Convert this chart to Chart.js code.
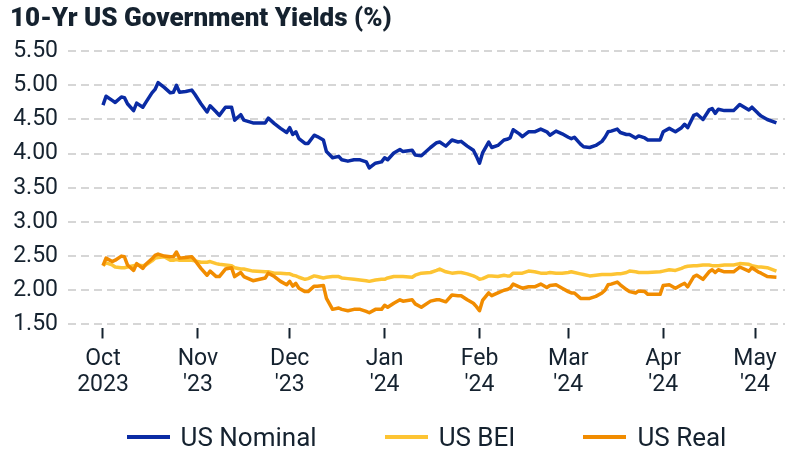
<!DOCTYPE html>
<html>
<head>
<meta charset="utf-8">
<script src="https://cdn.jsdelivr.net/npm/chart.js@4.4.1/dist/chart.umd.min.js"></script>
<style>
  html, body { margin: 0; padding: 0; background: #fff; }
  #wrap { position: relative; width: 786px; height: 451px; }
  #legend {
    position: absolute; left: 68px; right: 1px; top: 423px;
    display: flex; justify-content: center; align-items: center;
    font: 26px Roboto, sans-serif; color: #15222f; line-height: 28px;
  }
  .item { display: flex; align-items: center; margin: 0 34px; }
  .sw { width: 43px; height: 4px; margin-right: 11px; }
</style>
</head>
<body>
<div id="wrap">
  <canvas id="c" width="786" height="451"></canvas>
  <div id="legend"></div>
</div>
<script>
// 10-year US Treasury yields: nominal, breakeven inflation and real (TIPS)
const dates = [
  '2023-10-01','2023-10-02','2023-10-04','2023-10-05','2023-10-07','2023-10-08','2023-10-09','2023-10-11','2023-10-12','2023-10-14','2023-10-15','2023-10-17','2023-10-18','2023-10-19','2023-10-21','2023-10-23','2023-10-24','2023-10-25','2023-10-26','2023-10-28','2023-10-30','2023-10-31',
  '2023-11-02','2023-11-04','2023-11-05','2023-11-07','2023-11-08','2023-11-10','2023-11-12','2023-11-13','2023-11-15','2023-11-16','2023-11-19','2023-11-23','2023-11-24','2023-11-26','2023-11-28','2023-11-30',
  '2023-12-01','2023-12-02','2023-12-03','2023-12-04','2023-12-06','2023-12-07','2023-12-09','2023-12-10','2023-12-12','2023-12-13','2023-12-15','2023-12-17','2023-12-18','2023-12-20','2023-12-22','2023-12-24','2023-12-26','2023-12-27','2023-12-29','2023-12-31',
  '2024-01-01','2024-01-02','2024-01-04','2024-01-06','2024-01-07','2024-01-10','2024-01-11','2024-01-13','2024-01-16','2024-01-18','2024-01-19','2024-01-21','2024-01-23','2024-01-25','2024-01-26','2024-01-28','2024-01-30','2024-01-31',
  '2024-02-01','2024-02-02','2024-02-04','2024-02-05','2024-02-07','2024-02-09','2024-02-10','2024-02-11','2024-02-12','2024-02-14','2024-02-15','2024-02-17','2024-02-19','2024-02-21','2024-02-23','2024-02-24','2024-02-26','2024-02-28',
  '2024-03-01','2024-03-02','2024-03-03','2024-03-05','2024-03-06','2024-03-08','2024-03-10','2024-03-12','2024-03-13','2024-03-14','2024-03-15','2024-03-17','2024-03-18','2024-03-20','2024-03-21','2024-03-23','2024-03-24','2024-03-26','2024-03-27','2024-03-31',
  '2024-04-01','2024-04-03','2024-04-05','2024-04-07','2024-04-08','2024-04-09','2024-04-11','2024-04-12','2024-04-14','2024-04-16','2024-04-17','2024-04-18','2024-04-19','2024-04-21','2024-04-24','2024-04-26','2024-04-29','2024-04-30',
  '2024-05-02','2024-05-03','2024-05-05','2024-05-08'
];

const nominal = [
  4.71,4.84,4.78,4.75,4.83,4.82,4.73,4.63,4.74,4.68,4.75,4.89,4.94,5.04,4.97,4.89,4.90,5.00,4.90,4.91,4.93,4.87,
  4.73,4.61,4.70,4.61,4.56,4.68,4.68,4.49,4.57,4.49,4.45,4.45,4.52,4.44,4.37,4.31,
  4.38,4.28,4.32,4.22,4.15,4.15,4.27,4.25,4.20,4.03,3.94,3.96,3.91,3.89,3.91,3.91,3.88,3.79,3.86,3.88,
  3.94,3.91,4.01,4.06,4.03,4.05,3.98,3.97,4.09,4.16,4.17,4.11,4.20,4.17,4.18,4.11,4.05,3.96,
  3.86,4.01,4.17,4.09,4.12,4.20,4.21,4.23,4.35,4.29,4.25,4.32,4.32,4.36,4.32,4.27,4.33,4.29,
  4.24,4.22,4.24,4.14,4.10,4.09,4.12,4.18,4.24,4.32,4.33,4.36,4.31,4.28,4.28,4.23,4.26,4.23,4.20,4.20,
  4.32,4.37,4.32,4.38,4.43,4.38,4.56,4.58,4.50,4.64,4.66,4.59,4.65,4.63,4.63,4.72,4.64,4.68,
  4.59,4.55,4.50,4.45
];

const bei = [
  2.36,2.40,2.37,2.34,2.33,2.33,2.34,2.36,2.37,2.36,2.37,2.43,2.47,2.48,2.49,2.44,2.44,2.45,2.44,2.44,2.44,2.43,
  2.41,2.41,2.42,2.39,2.38,2.37,2.36,2.33,2.31,2.31,2.28,2.27,2.27,2.25,2.25,2.24,
  2.24,2.22,2.21,2.19,2.16,2.17,2.21,2.20,2.18,2.19,2.20,2.20,2.18,2.17,2.16,2.15,2.14,2.13,2.15,2.16,
  2.16,2.18,2.20,2.20,2.20,2.19,2.22,2.25,2.26,2.29,2.31,2.27,2.25,2.26,2.26,2.24,2.21,2.19,
  2.16,2.17,2.21,2.21,2.20,2.22,2.21,2.21,2.25,2.25,2.25,2.28,2.27,2.25,2.25,2.26,2.25,2.25,
  2.26,2.27,2.26,2.24,2.23,2.21,2.22,2.23,2.23,2.23,2.23,2.24,2.24,2.26,2.28,2.27,2.26,2.26,2.26,2.27,
  2.28,2.30,2.29,2.32,2.34,2.35,2.36,2.36,2.37,2.37,2.36,2.36,2.36,2.37,2.37,2.39,2.38,2.36,
  2.34,2.34,2.33,2.28
];

const real = [
  2.36,2.47,2.42,2.44,2.50,2.49,2.37,2.29,2.39,2.32,2.38,2.46,2.51,2.53,2.50,2.49,2.49,2.56,2.47,2.48,2.49,2.44,
  2.32,2.22,2.28,2.20,2.20,2.31,2.33,2.20,2.26,2.20,2.14,2.18,2.25,2.20,2.13,2.08,
  2.13,2.06,2.10,2.03,1.98,1.98,2.06,2.06,2.07,1.88,1.72,1.74,1.72,1.70,1.72,1.72,1.69,1.67,1.72,1.72,
  1.78,1.75,1.81,1.86,1.84,1.86,1.80,1.75,1.84,1.86,1.86,1.83,1.93,1.92,1.92,1.86,1.81,1.76,
  1.70,1.85,1.96,1.92,1.96,2.00,2.01,2.03,2.09,2.05,2.03,2.05,2.05,2.09,2.04,2.07,2.08,2.03,
  1.98,1.96,1.96,1.88,1.88,1.88,1.91,1.96,2.00,2.08,2.09,2.12,2.08,2.01,1.98,1.96,1.99,1.98,1.94,1.94,
  2.07,2.08,2.03,2.08,2.10,2.05,2.20,2.22,2.16,2.27,2.30,2.26,2.30,2.27,2.27,2.34,2.28,2.33,
  2.27,2.25,2.20,2.19
];

const tickDates  = ['2023-10-01','2023-11-01','2023-12-01','2024-01-01','2024-02-01','2024-03-01','2024-04-01','2024-05-01'];
const tickMonths = ['Oct','Nov','Dec','Jan','Feb','Mar','Apr','May'];
const tickYears  = ['2023',"'23","'23","'24","'24","'24","'24","'24"];
const yTicks = [1.5, 2, 2.5, 3, 3.5, 4, 4.5, 5, 5.5];

const INK = '#15222f';
const DAY = 864e5, ORIGIN = Date.UTC(2023, 9, 1);

// no date adapter offline, so x is "days since 1 Oct 2023" on a linear scale
function dayOf(s) {
  const [y, m, d] = s.split('-').map(Number);
  return (Date.UTC(y, m - 1, d) - ORIGIN) / DAY;
}
const tickDays = tickDates.map(dayOf);
const toPoints = vals => vals.map((v, i) => ({ x: dayOf(dates[i]), y: v }));

const series = [
  { label: 'US Nominal', values: nominal, color: '#0a2ba4', order: 0 },
  { label: 'US BEI',     values: bei,     color: '#fdc433', order: 2 },
  { label: 'US Real',    values: real,    color: '#f18c00', order: 1 }
];

new Chart(document.getElementById('c'), {
  type: 'line',
  data: {
    datasets: series.map(s => ({
      label: s.label,
      data: toPoints(s.values),
      borderColor: s.color,
      backgroundColor: s.color,
      borderWidth: 3.5,
      borderJoinStyle: 'round',
      pointRadius: 0,
      tension: 0,
      order: s.order
    }))
  },
  options: {
    responsive: false,
    animation: false,
    layout: { padding: { left: 10, right: 1, top: 4, bottom: 45 } },
    plugins: {
      legend: { display: false },
      tooltip: { enabled: false },
      title: {
        display: true,
        text: '10-Yr US Government Yields (%)',
        align: 'start',
        color: INK,
        font: { family: 'Roboto', size: 26, weight: '900' },
        padding: { top: 0, bottom: 16 }
      }
    },
    scales: {
      x: {
        type: 'linear',
        min: -11.43,
        max: 222.8,
        afterBuildTicks: sc => { sc.ticks = tickDays.map(v => ({ value: v })); },
        ticks: {
          color: INK,
          font: { family: 'Roboto', size: 23, lineHeight: 1.12 },
          padding: 8,
          maxRotation: 0,
          autoSkip: false,
          callback: v => {
            const i = tickDays.indexOf(v);
            return i < 0 ? '' : [tickMonths[i], tickYears[i]];
          }
        },
        grid: { drawOnChartArea: false, drawTicks: true, tickLength: 10, tickColor: INK, tickWidth: 2 },
        border: { display: false }
      },
      y: {
        min: 1.44,
        max: 5.5,
        afterBuildTicks: sc => { sc.ticks = yTicks.map(v => ({ value: v })); },
        afterFit: sc => { sc.width = 58; },
        ticks: {
          color: INK,
          font: { family: 'Roboto', size: 23 },
          padding: 10,
          callback: v => v.toFixed(2)
        },
        grid: { color: '#d6d6d6', lineWidth: 2, drawTicks: false },
        border: { display: false, dash: [8, 5] }
      }
    }
  }
});

// legend as html so the item spacing can be set freely
const legend = document.getElementById('legend');
series.forEach(s => {
  const item = document.createElement('div');
  item.className = 'item';
  const sw = document.createElement('span');
  sw.className = 'sw';
  sw.style.background = s.color;
  const txt = document.createElement('span');
  txt.textContent = s.label;
  item.appendChild(sw);
  item.appendChild(txt);
  legend.appendChild(item);
});
</script>
</body>
</html>
